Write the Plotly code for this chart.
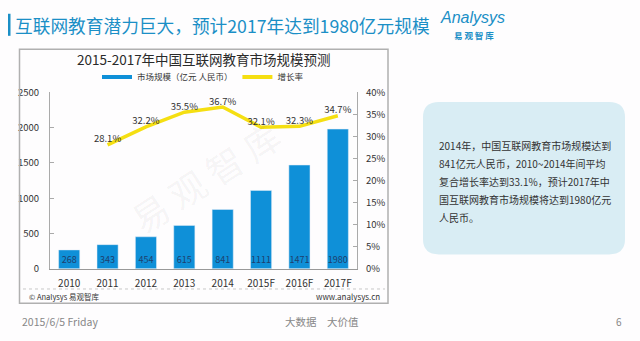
import plotly.graph_objects as go

W, H = 640, 341
years = ["2010", "2011", "2012", "2013", "2014", "2015F", "2016F", "2017F"]
market_size = [268, 343, 454, 615, 841, 1111, 1471, 1980]
growth = [None, 0.281, 0.322, 0.355, 0.367, 0.321, 0.323, 0.347]
growth_labels = ["", "28.1%", "32.2%", "35.5%", "36.7%", "32.1%", "32.3%", "34.7%"]

FONT = "Noto Sans CJK SC"
BLUE = "#0f90d8"
YELLOW = "#f5df12"

def px(x):
    return x / W

def py(y):
    return 1 - y / H

fig = go.Figure()
fig.add_trace(go.Bar(
    x=years, y=market_size, marker_color=BLUE, width=0.55,
    text=[str(v) for v in market_size], textposition="inside",
    insidetextanchor="start", textangle=0,
    textfont=dict(size=9.5, color="#1e3f6e", family=FONT),
    showlegend=False, cliponaxis=False,
))
fig.add_trace(go.Scatter(
    x=years, y=growth, yaxis="y2", mode="lines+text",
    line=dict(color=YELLOW, width=3.5),
    text=growth_labels, textposition="top center",
    textfont=dict(size=9.5, color="#333333", family=FONT),
    showlegend=False, cliponaxis=False,
))
# legend proxies
fig.add_trace(go.Scatter(x=[None], y=[None], mode="lines",
                         line=dict(color=BLUE, width=4),
                         name="市场规模（亿元 人民币）"))
fig.add_trace(go.Scatter(x=[None], y=[None], mode="lines", yaxis="y2",
                         line=dict(color=YELLOW, width=4),
                         name="增长率"))

shapes = []
# title accent bar
shapes.append(dict(type="rect", xref="paper", yref="paper",
                   x0=px(8), x1=px(10.5), y0=py(29), y1=py(6),
                   fillcolor="#1b8fc6", line_width=0))
# chart box
shapes.append(dict(type="rect", xref="paper", yref="paper",
                   x0=px(19.5), x1=px(388), y0=py(308), y1=py(43),
                   line=dict(color="#b0b0b0", width=1.5), fillcolor="rgba(0,0,0,0)"))
# dotted footer line
shapes.append(dict(type="line", xref="paper", yref="paper",
                   x0=px(23), x1=px(385), y0=py(293), y1=py(293),
                   line=dict(color="#c8c8c8", width=1, dash="dot")))
# rounded text box
x0, x1, y0, y1, r = 423, 625, 98, 257, 16
path = (f"M {px(x0+r)},{py(y0)} L {px(x1-r)},{py(y0)} "
        f"Q {px(x1)},{py(y0)} {px(x1)},{py(y0+r)} "
        f"L {px(x1)},{py(y1-r)} Q {px(x1)},{py(y1)} {px(x1-r)},{py(y1)} "
        f"L {px(x0+r)},{py(y1)} Q {px(x0)},{py(y1)} {px(x0)},{py(y1-r)} "
        f"L {px(x0)},{py(y0+r)} Q {px(x0)},{py(y0)} {px(x0+r)},{py(y0)} Z")
shapes.append(dict(type="path", xref="paper", yref="paper", path=path,
                   fillcolor="#d9edf4", line_width=0, layer="below"))

ann = []
def text(x, y, s, size, color="#333333", xanchor="left", **kw):
    ann.append(dict(x=px(x), y=py(y), xref="paper", yref="paper", text=s,
                    showarrow=False, xanchor=xanchor, yanchor="middle",
                    font=dict(size=size, color=color, family=kw.pop("family", FONT)), **kw))

text(13, 18, "互联网教育潜力巨大，预计2017年达到1980亿元规模", 17.7, "#1b8fc6")
text(472, 10, "<i>Analysys</i>", 16, "#1b8fc6", "center", family="Liberation Sans")
text(474, 28, "<b>易 观 智 库</b>", 8.5, "#1b8fc6", "center")
text(204, 53, "2015-2017年中国互联网教育市场规模预测", 13.5, "#2a2a2a", "center")
text(27, 301, "© Analysys 易观智库", 7.5, "#333333")
text(382, 301, "www.analysys.cn", 8, "#333333", "right")
text(20, 327, "2015/6/5 Friday", 10.5, "#888888")
text(322, 327, "大数据　大价值", 10.5, "#888888", "center")
text(624, 327, "6", 10, "#888888", "right")
text(205, 175, "易 观 智 库", 36, "rgba(0,0,0,0.05)", "center", textangle=-33)

box_lines = ["2014年，中国互联网教育市场规模达到",
             "841亿元人民币，2010~2014年间平均",
             "复合增长率达到33.1%，预计2017年中",
             "国互联网教育市场规模将达到1980亿元",
             "人民币。"]
for i, s in enumerate(box_lines):
    text(437, 143 + i * 18.8, s, 10, "#333333")

fig.update_layout(
    width=W, height=H, margin=dict(l=0, r=0, t=0, b=0),
    paper_bgcolor="#fefdfe", plot_bgcolor="rgba(0,0,0,0)",
    font=dict(family=FONT, size=10, color="#333333"),
    bargap=0.45,
    uniformtext=dict(minsize=9, mode="show"),
    xaxis=dict(domain=[px(50), px(357)], showline=True, linecolor="#999999",
               linewidth=1, ticks="", tickfont=dict(size=10, color="#333333"),
               showgrid=False, zeroline=False, ticklabelstandoff=5),
    yaxis=dict(range=[0, 2500], dtick=500, domain=[py(272), py(88)],
               showline=True, linecolor="#aaaaaa", ticks="inside", ticklen=4,
               tickcolor="#aaaaaa", showgrid=False, zeroline=False,
               tickfont=dict(size=9.5, color="#333333"), ticklabelstandoff=8),
    yaxis2=dict(range=[0, 0.40], dtick=0.05, tickformat=".0%", overlaying="y",
                side="right", showline=True, linecolor="#aaaaaa", ticks="inside",
                ticklen=4, tickcolor="#aaaaaa", showgrid=False, zeroline=False,
                tickfont=dict(size=9.5, color="#333333"), ticklabelstandoff=6),
    legend=dict(orientation="h", x=px(203), xanchor="center", y=py(72),
                yanchor="middle", font=dict(size=8.5, color="#333333"),
                bgcolor="rgba(0,0,0,0)", itemwidth=30, tracegroupgap=0),
    shapes=shapes, annotations=ann,
)

fig.write_html("out.html")
